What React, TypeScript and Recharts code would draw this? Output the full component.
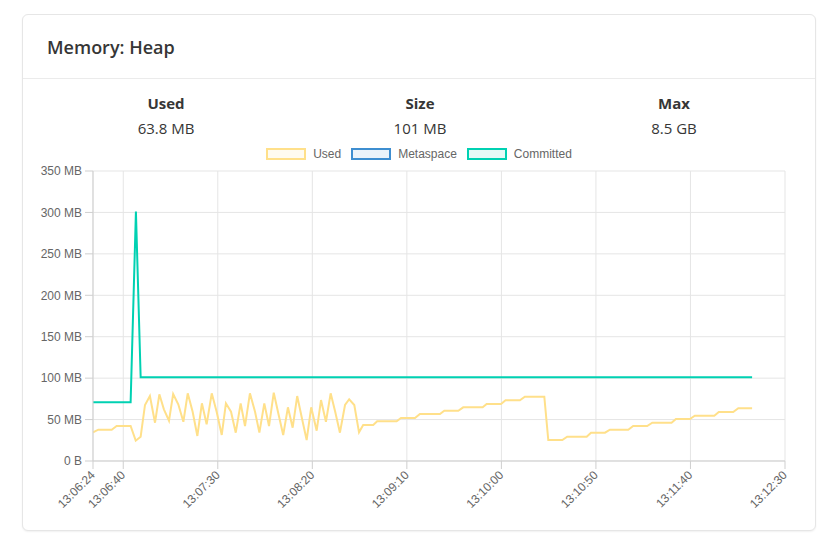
import { LineChart, Line, XAxis, YAxis, CartesianGrid } from 'recharts';

// seconds since 13:06:24
const usedTimes = [
  0, 2.8, 9.9, 12.5, 19.9, 22.6, 25.2, 27.5, 30.1, 32.8, 35.1, 37.5, 40.2, 42.4, 45.1, 47.8,
  50.1, 52.7, 55.2, 57.6, 60.1, 62.8, 65.4, 68.1, 70.3, 73, 75.5, 78.1, 80.4, 83, 85.7, 88,
  90.6, 93.1, 95.6, 98, 100.6, 103.1, 105.6, 108, 110.7, 113, 115.4, 118.3, 120.6, 123.2,
  125.7, 128.1, 130.6, 133.3, 135.5, 138.2, 140.7, 142.9, 148.2, 150.3, 160.6, 162.9, 170.3,
  172.9, 183.5, 185.8, 193.2, 195.8, 206.1, 208.2, 215.8, 218.2, 225.8, 228.4, 238.7, 240.8,
  248.2, 250.8, 261.1, 263.4, 270.8, 273.4, 283.1, 285.7, 293.1, 295.8, 306, 308.3, 315.7,
  318.3, 328.6, 331, 338.6, 341.3, 348.6,
];
const usedMB = [
  34.6, 37.8, 37.8, 42.2, 42.2, 24.5, 29.3, 67.6, 78.4, 46.2, 80.5, 62.4, 48.6, 80.9, 68.4, 47.4,
  81.7, 59.5, 30.2, 69.6, 44.3, 81.7, 59.5, 31.4, 69.6, 59.5, 34.2, 69.6, 42.2, 81.7, 59.5, 34.2,
  69.6, 42.2, 82.4, 57.6, 31.4, 64.8, 40.2, 78.4, 49.5, 25.3, 64.8, 36.6, 73.6, 47.4,
  81.7, 59.5, 34.2, 67.6, 74.5, 67.6, 34.6, 43.4, 43.4, 47.9, 47.9, 51.9, 51.9,
  56.7, 56.7, 60.7, 60.7, 64.8, 64.8, 68.8, 68.8, 73.3, 73.3, 77.6, 77.6, 25.3,
  25.3, 29.3, 29.3, 34.2, 34.2, 37.8, 37.8, 42.2, 42.2, 46.2, 46.2, 50.7, 50.7,
  54.7, 54.7, 59.1, 59.1, 63.6, 63.6,
];
const committedTimes = [0, 19.9, 22.7, 25.2, 348.6];
const committedMB = [70.8, 70.8, 301, 101, 101];

const xTicks = [0, 16, 66, 116, 166, 216, 266, 316, 366];
const yTicks = [0, 50, 100, 150, 200, 250, 300, 350];

const stats = [
  { label: 'Used', value: '63.8 MB' },
  { label: 'Size', value: '101 MB' },
  { label: 'Max', value: '8.5 GB' },
];

const legendItems = [
  { name: 'Used', stroke: '#ffe08a', fill: '#fffbf0' },
  { name: 'Metaspace', stroke: '#3e8ed0', fill: '#ebf3fa' },
  { name: 'Committed', stroke: '#00d1b2', fill: '#e6faf7' },
];

const usedData = usedTimes.map((t, i) => ({ t, v: usedMB[i] }));
const committedData = committedTimes.map((t, i) => ({ t, v: committedMB[i] }));

const START = 13 * 3600 + 6 * 60 + 24;
const pad = (n: number) => String(n).padStart(2, '0');
const fmtTime = (s: number) => {
  const x = START + s;
  return `${pad(Math.floor(x / 3600))}:${pad(Math.floor((x % 3600) / 60))}:${pad(x % 60)}`;
};
const fmtMB = (v: number) => (v === 0 ? '0 B' : `${v} MB`);

const XTick = ({ x, y, payload }: any) => (
  <g transform={`translate(${x},${y})`}>
    <text
      x={0}
      y={0}
      dy={4}
      textAnchor="end"
      transform="rotate(-45)"
      fill="#666"
      fontSize={12}
      fontFamily="'Liberation Sans', Arial, sans-serif"
    >
      {fmtTime(payload.value)}
    </text>
  </g>
);

const font = "'Open Sans', 'Noto Sans', sans-serif";

export default function App() {
  return (
    <div
      style={{
        position: 'absolute',
        left: 22,
        top: 14,
        width: 794,
        height: 517,
        boxSizing: 'border-box',
        border: '1px solid #e6e6e6',
        borderRadius: 6,
        boxShadow: '0 1px 2px rgba(0,0,0,0.06)',
        background: '#fff',
        fontFamily: font,
        color: '#363636',
      }}
    >
      <div
        style={{
          height: 64,
          boxSizing: 'border-box',
          borderBottom: '1px solid #ebebeb',
          paddingLeft: 24,
          lineHeight: '64px',
          fontSize: 18,
          fontWeight: 600,
        }}
      >
        Memory: Heap
      </div>
      {stats.map((s, i) => (
        <div
          key={s.label}
          style={{
            position: 'absolute',
            left: 16 + i * 254,
            top: 75,
            width: 254,
            textAlign: 'center',
            fontSize: 15,
          }}
        >
          <div style={{ fontWeight: 700, lineHeight: '26px' }}>{s.label}</div>
          <div style={{ lineHeight: '24px' }}>{s.value}</div>
        </div>
      ))}
      <div
        style={{
          position: 'absolute',
          left: 0,
          top: 132,
          width: 792,
          display: 'flex',
          justifyContent: 'center',
          alignItems: 'center',
          gap: 10,
          fontFamily: "'Liberation Sans', Arial, sans-serif",
          fontSize: 12,
          color: '#666',
        }}
      >
        {legendItems.map((l) => (
          <div key={l.name} style={{ display: 'flex', alignItems: 'center' }}>
            <div
              style={{
                width: 40,
                height: 12,
                boxSizing: 'border-box',
                border: `2px solid ${l.stroke}`,
                background: l.fill,
                marginRight: 7,
              }}
            />
            <span>{l.name}</span>
          </div>
        ))}
      </div>
      <div style={{ position: 'absolute', left: 7, top: 150 }}>
        <LineChart width={780} height={356} margin={{ top: 6, right: 25, left: 0, bottom: 0 }}>
          <CartesianGrid stroke="#e5e5e5" />
          <XAxis
            type="number"
            dataKey="t"
            domain={[0, 366]}
            ticks={xTicks}
            interval={0}
            height={60}
            tick={<XTick />}
            tickSize={8}
            tickMargin={4}
            stroke="#cfcfcf"
            allowDataOverflow
          />
          <YAxis
            type="number"
            domain={[0, 350]}
            ticks={yTicks}
            interval={0}
            width={63}
            tickFormatter={fmtMB}
            tickSize={8}
            tickMargin={3}
            stroke="#cfcfcf"
            tick={{ fill: '#666', fontSize: 12, fontFamily: "'Liberation Sans', Arial, sans-serif" }}
          />
          <Line
            data={committedData}
            dataKey="v"
            name="Committed"
            type="linear"
            stroke="#00d1b2"
            strokeWidth={2}
            dot={false}
            isAnimationActive={false}
          />
          <Line
            data={usedData}
            dataKey="v"
            name="Used"
            type="linear"
            stroke="#ffe08a"
            strokeWidth={2}
            dot={false}
            isAnimationActive={false}
          />
        </LineChart>
      </div>
    </div>
  );
}
